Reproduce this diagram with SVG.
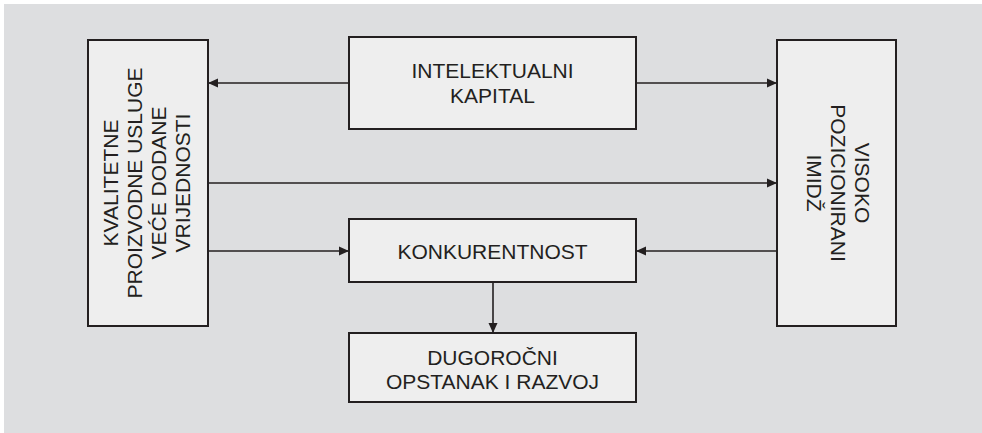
<svg xmlns="http://www.w3.org/2000/svg" width="982" height="433" viewBox="0 0 982 433">
<style>
.box{fill:#eeeeee;stroke:#231f20;stroke-width:2}
.lbl{font-family:"Liberation Sans",Arial,sans-serif;font-size:21px;fill:#231f20;text-anchor:middle}
.con{stroke:#231f20;stroke-width:1.6;fill:none}
</style>
<defs>
<marker id="ah" viewBox="0 0 10 10" refX="10" refY="5" markerWidth="10" markerHeight="10" markerUnits="userSpaceOnUse" orient="auto">
<path d="M0,0.5 L10,5 L0,9.5 z" fill="#231f20"/>
</marker>
</defs>
<rect x="4" y="4" width="978" height="429" fill="#dddee0"/>
<g id="connectors">
<line class="con" x1="349" y1="83" x2="208" y2="83" marker-end="url(#ah)"/>
<line class="con" x1="636" y1="83" x2="777" y2="83" marker-end="url(#ah)"/>
<line class="con" x1="208" y1="183" x2="777" y2="183" marker-end="url(#ah)"/>
<line class="con" x1="208" y1="251" x2="349" y2="251" marker-end="url(#ah)"/>
<line class="con" x1="777" y1="251" x2="636" y2="251" marker-end="url(#ah)"/>
<line class="con" x1="493" y1="282" x2="493" y2="333" marker-end="url(#ah)"/>
</g>
<g id="kvalitetne">
<rect class="box" x="88" y="40" width="120" height="286"/>
<text class="lbl" transform="translate(118,183) rotate(-90)"><tspan x="0" y="0">KVALITETNE</tspan><tspan x="0" y="24">PROIZVODNE USLUGE</tspan><tspan x="0" y="48">VEĆE DODANE</tspan><tspan x="0" y="72">VRIJEDNOSTI</tspan></text>
</g>
<g id="intelektualni">
<rect class="box" x="349" y="37" width="287" height="92"/>
<text class="lbl"><tspan x="492.5" y="78">INTELEKTUALNI</tspan><tspan x="492.5" y="103">KAPITAL</tspan></text>
</g>
<g id="visoko">
<rect class="box" x="777" y="40" width="119" height="286"/>
<text class="lbl" transform="translate(855,183) rotate(90)"><tspan x="0" y="0">VISOKO</tspan><tspan x="0" y="24">POZICIONIRANI</tspan><tspan x="0" y="48">IMIDŽ</tspan></text>
</g>
<g id="konkurentnost">
<rect class="box" x="349" y="219" width="287" height="63"/>
<text class="lbl" x="492.5" y="259">KONKURENTNOST</text>
</g>
<g id="dugorocni">
<rect class="box" x="349" y="333" width="287" height="69"/>
<text class="lbl"><tspan x="492.5" y="365">DUGOROČNI</tspan><tspan x="492.5" y="389">OPSTANAK I RAZVOJ</tspan></text>
</g>
</svg>
